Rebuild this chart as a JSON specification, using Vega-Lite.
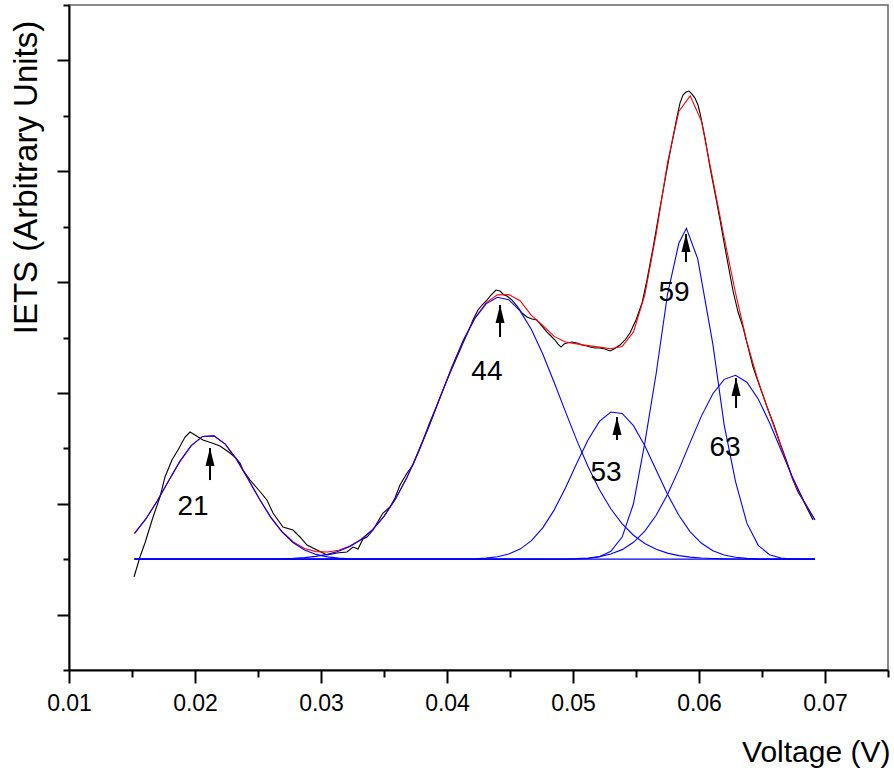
{
"$schema":"https://vega.github.io/schema/vega-lite/v6.json",
"width":819,"height":665,
"autosize":{"type":"none"},
"padding":{"left":69,"top":5,"right":6,"bottom":102},
"background":"white",
"config":{"view":{"stroke":"#666","strokeWidth":1.5},"font":"Liberation Sans"},
"datasets":{
"exp":[
{"x":0.01516,"y":1.678},{"x":0.01563,"y":2.039},{"x":0.01603,"y":2.292},{"x":0.01667,"y":2.761},{"x":0.01722,"y":3.122},{"x":0.01762,"y":3.483},{"x":0.01817,"y":3.789},{"x":0.01865,"y":3.970},{"x":0.01921,"y":4.204},{"x":0.01960,"y":4.294},{"x":0.02000,"y":4.240},{"x":0.02063,"y":4.150},{"x":0.02135,"y":4.096},{"x":0.02198,"y":4.042},{"x":0.02278,"y":3.916},{"x":0.02325,"y":3.825},{"x":0.02357,"y":3.735},{"x":0.02381,"y":3.609},{"x":0.02437,"y":3.428},{"x":0.02492,"y":3.284},{"x":0.02532,"y":3.176},{"x":0.02571,"y":3.067},{"x":0.02619,"y":2.833},{"x":0.02698,"y":2.580},{"x":0.02778,"y":2.526},{"x":0.02833,"y":2.400},{"x":0.02889,"y":2.255},{"x":0.02968,"y":2.165},{"x":0.03048,"y":2.075},{"x":0.03127,"y":2.111},{"x":0.03206,"y":2.129},{"x":0.03254,"y":2.219},{"x":0.03294,"y":2.183},{"x":0.03333,"y":2.364},{"x":0.03365,"y":2.400},{"x":0.03413,"y":2.526},{"x":0.03468,"y":2.743},{"x":0.03492,"y":2.833},{"x":0.03548,"y":2.941},{"x":0.03587,"y":3.104},{"x":0.03627,"y":3.338},{"x":0.03683,"y":3.555},{"x":0.03730,"y":3.699},{"x":0.03770,"y":3.934},{"x":0.03810,"y":4.150},{"x":0.03865,"y":4.475},{"x":0.03921,"y":4.782},{"x":0.03968,"y":5.052},{"x":0.04024,"y":5.359},{"x":0.04079,"y":5.648},{"x":0.04127,"y":5.900},{"x":0.04167,"y":6.099},{"x":0.04206,"y":6.315},{"x":0.04246,"y":6.496},{"x":0.04278,"y":6.586},{"x":0.04317,"y":6.676},{"x":0.04349,"y":6.767},{"x":0.04389,"y":6.857},{"x":0.04421,"y":6.839},{"x":0.04452,"y":6.767},{"x":0.04476,"y":6.749},{"x":0.04516,"y":6.676},{"x":0.04556,"y":6.568},{"x":0.04595,"y":6.442},{"x":0.04635,"y":6.370},{"x":0.04675,"y":6.333},{"x":0.04714,"y":6.315},{"x":0.04754,"y":6.207},{"x":0.04794,"y":6.099},{"x":0.04825,"y":6.027},{"x":0.04857,"y":5.955},{"x":0.04881,"y":5.882},{"x":0.04905,"y":5.828},{"x":0.04929,"y":5.882},{"x":0.04952,"y":5.900},{"x":0.04992,"y":5.918},{"x":0.05032,"y":5.900},{"x":0.05071,"y":5.864},{"x":0.05111,"y":5.846},{"x":0.05135,"y":5.828},{"x":0.05175,"y":5.810},{"x":0.05214,"y":5.810},{"x":0.05254,"y":5.792},{"x":0.05294,"y":5.756},{"x":0.05325,"y":5.792},{"x":0.05373,"y":5.864},{"x":0.05413,"y":5.955},{"x":0.05452,"y":6.081},{"x":0.05500,"y":6.315},{"x":0.05548,"y":6.622},{"x":0.05587,"y":7.037},{"x":0.05635,"y":7.615},{"x":0.05683,"y":8.246},{"x":0.05730,"y":8.842},{"x":0.05778,"y":9.437},{"x":0.05825,"y":9.978},{"x":0.05849,"y":10.231},{"x":0.05873,"y":10.375},{"x":0.05897,"y":10.430},{"x":0.05921,"y":10.448},{"x":0.05944,"y":10.393},{"x":0.05968,"y":10.321},{"x":0.05992,"y":10.195},{"x":0.06008,"y":10.051},{"x":0.06048,"y":9.599},{"x":0.06087,"y":9.076},{"x":0.06127,"y":8.607},{"x":0.06167,"y":8.120},{"x":0.06214,"y":7.524},{"x":0.06270,"y":6.839},{"x":0.06310,"y":6.460},{"x":0.06349,"y":6.189},{"x":0.06389,"y":5.828},{"x":0.06429,"y":5.467},{"x":0.06484,"y":5.106},{"x":0.06540,"y":4.746},{"x":0.06595,"y":4.421},{"x":0.06643,"y":4.096},{"x":0.06698,"y":3.753},{"x":0.06746,"y":3.428},{"x":0.06786,"y":3.212},{"x":0.06825,"y":3.067},{"x":0.06865,"y":2.887},{"x":0.06905,"y":2.707}
],
"fit":[
{"x":0.0152,"y":2.466},{"x":0.0161,"y":2.726},{"x":0.0170,"y":3.050},{"x":0.0179,"y":3.411},{"x":0.0188,"y":3.764},{"x":0.0197,"y":4.050},{"x":0.0206,"y":4.215},{"x":0.0215,"y":4.224},{"x":0.0224,"y":4.076},{"x":0.0233,"y":3.801},{"x":0.0242,"y":3.453},{"x":0.0251,"y":3.091},{"x":0.0260,"y":2.763},{"x":0.0269,"y":2.499},{"x":0.0278,"y":2.311},{"x":0.0287,"y":2.194},{"x":0.0296,"y":2.136},{"x":0.0305,"y":2.128},{"x":0.0314,"y":2.162},{"x":0.0323,"y":2.237},{"x":0.0332,"y":2.359},{"x":0.0341,"y":2.534},{"x":0.0350,"y":2.773},{"x":0.0359,"y":3.083},{"x":0.0368,"y":3.465},{"x":0.0377,"y":3.914},{"x":0.0386,"y":4.416},{"x":0.0395,"y":4.947},{"x":0.0404,"y":5.471},{"x":0.0413,"y":5.952},{"x":0.0422,"y":6.347},{"x":0.0431,"y":6.626},{"x":0.0440,"y":6.769},{"x":0.0449,"y":6.774},{"x":0.0458,"y":6.663},{"x":0.0467,"y":6.400},{"x":0.0476,"y":6.220},{"x":0.0485,"y":6.020},{"x":0.0494,"y":5.920},{"x":0.0503,"y":5.885},{"x":0.0512,"y":5.854},{"x":0.0521,"y":5.826},{"x":0.0530,"y":5.798},{"x":0.0539,"y":5.838},{"x":0.0548,"y":6.100},{"x":0.0557,"y":6.770},{"x":0.0566,"y":7.870},{"x":0.0575,"y":9.150},{"x":0.0584,"y":10.080},{"x":0.0593,"y":10.360},{"x":0.0602,"y":9.900},{"x":0.0611,"y":8.850},{"x":0.0620,"y":7.800},{"x":0.0629,"y":6.800},{"x":0.0638,"y":5.920},{"x":0.0647,"y":5.210},{"x":0.0656,"y":4.620},{"x":0.0665,"y":4.040},{"x":0.0674,"y":3.460},{"x":0.0683,"y":3.050},{"x":0.0692,"y":2.710}
],
"comp":[
{"c":"21","x":0.0152,"y":2.466},{"c":"21","x":0.0161,"y":2.726},{"c":"21","x":0.0170,"y":3.050},{"c":"21","x":0.0179,"y":3.411},{"c":"21","x":0.0188,"y":3.764},{"c":"21","x":0.0197,"y":4.050},{"c":"21","x":0.0206,"y":4.215},{"c":"21","x":0.0215,"y":4.224},{"c":"21","x":0.0224,"y":4.076},{"c":"21","x":0.0233,"y":3.801},{"c":"21","x":0.0242,"y":3.452},{"c":"21","x":0.0251,"y":3.089},{"c":"21","x":0.0260,"y":2.759},{"c":"21","x":0.0269,"y":2.491},{"c":"21","x":0.0278,"y":2.296},{"c":"21","x":0.0287,"y":2.166},{"c":"21","x":0.0296,"y":2.086},{"c":"21","x":0.0305,"y":2.042},{"c":"21","x":0.0314,"y":2.019},{"c":"21","x":0.0323,"y":2.008},{"c":"21","x":0.0332,"y":2.003},{"c":"21","x":0.0350,"y":2.0},{"c":"21","x":0.0692,"y":2.0},
{"c":"44","x":0.0152,"y":2.0},{"c":"44","x":0.0251,"y":2.0},{"c":"44","x":0.0260,"y":2.004},{"c":"44","x":0.0269,"y":2.008},{"c":"44","x":0.0278,"y":2.015},{"c":"44","x":0.0287,"y":2.028},{"c":"44","x":0.0296,"y":2.050},{"c":"44","x":0.0305,"y":2.086},{"c":"44","x":0.0314,"y":2.143},{"c":"44","x":0.0323,"y":2.229},{"c":"44","x":0.0332,"y":2.356},{"c":"44","x":0.0341,"y":2.534},{"c":"44","x":0.0350,"y":2.773},{"c":"44","x":0.0359,"y":3.083},{"c":"44","x":0.0368,"y":3.465},{"c":"44","x":0.0377,"y":3.914},{"c":"44","x":0.0386,"y":4.416},{"c":"44","x":0.0395,"y":4.947},{"c":"44","x":0.0404,"y":5.470},{"c":"44","x":0.0413,"y":5.949},{"c":"44","x":0.0422,"y":6.339},{"c":"44","x":0.0431,"y":6.607},{"c":"44","x":0.0440,"y":6.726},{"c":"44","x":0.0449,"y":6.682},{"c":"44","x":0.0458,"y":6.481},{"c":"44","x":0.0467,"y":6.145},{"c":"44","x":0.0476,"y":5.702},{"c":"44","x":0.0485,"y":5.193},{"c":"44","x":0.0494,"y":4.662},{"c":"44","x":0.0503,"y":4.143},{"c":"44","x":0.0512,"y":3.667},{"c":"44","x":0.0521,"y":3.252},{"c":"44","x":0.0530,"y":2.909},{"c":"44","x":0.0539,"y":2.638},{"c":"44","x":0.0548,"y":2.432},{"c":"44","x":0.0557,"y":2.283},{"c":"44","x":0.0566,"y":2.179},{"c":"44","x":0.0575,"y":2.109},{"c":"44","x":0.0584,"y":2.064},{"c":"44","x":0.0593,"y":2.037},{"c":"44","x":0.0602,"y":2.020},{"c":"44","x":0.0611,"y":2.011},{"c":"44","x":0.0620,"y":2.005},{"c":"44","x":0.0629,"y":2.002},{"c":"44","x":0.0647,"y":2.0},{"c":"44","x":0.0692,"y":2.0},
{"c":"53","x":0.0152,"y":2.0},{"c":"53","x":0.0395,"y":2.0},{"c":"53","x":0.0404,"y":2.001},{"c":"53","x":0.0413,"y":2.003},{"c":"53","x":0.0422,"y":2.008},{"c":"53","x":0.0431,"y":2.019},{"c":"53","x":0.0440,"y":2.043},{"c":"53","x":0.0449,"y":2.092},{"c":"53","x":0.0458,"y":2.182},{"c":"53","x":0.0467,"y":2.333},{"c":"53","x":0.0476,"y":2.565},{"c":"53","x":0.0485,"y":2.885},{"c":"53","x":0.0494,"y":3.285},{"c":"53","x":0.0503,"y":3.730},{"c":"53","x":0.0512,"y":4.154},{"c":"53","x":0.0521,"y":4.486},{"c":"53","x":0.0530,"y":4.656},{"c":"53","x":0.0539,"y":4.629},{"c":"53","x":0.0548,"y":4.410},{"c":"53","x":0.0557,"y":4.047},{"c":"53","x":0.0566,"y":3.610},{"c":"53","x":0.0575,"y":3.172},{"c":"53","x":0.0584,"y":2.791},{"c":"53","x":0.0593,"y":2.494},{"c":"53","x":0.0602,"y":2.286},{"c":"53","x":0.0611,"y":2.153},{"c":"53","x":0.0620,"y":2.076},{"c":"53","x":0.0629,"y":2.035},{"c":"53","x":0.0638,"y":2.015},{"c":"53","x":0.0647,"y":2.006},{"c":"53","x":0.0656,"y":2.002},{"c":"53","x":0.0665,"y":2.001},{"c":"53","x":0.0674,"y":2.0},{"c":"53","x":0.0692,"y":2.0},
{"c":"59","x":0.0152,"y":2.0},{"c":"59","x":0.0494,"y":2.0},{"c":"59","x":0.0503,"y":2.002},{"c":"59","x":0.0512,"y":2.011},{"c":"59","x":0.0521,"y":2.042},{"c":"59","x":0.0530,"y":2.141},{"c":"59","x":0.0539,"y":2.399},{"c":"59","x":0.0548,"y":3.000},{"c":"59","x":0.0557,"y":4.100},{"c":"59","x":0.0566,"y":5.350},{"c":"59","x":0.0575,"y":6.780},{"c":"59","x":0.0584,"y":7.700},{"c":"59","x":0.0590,"y":7.970},{"c":"59","x":0.0599,"y":7.420},{"c":"59","x":0.0611,"y":5.880},{"c":"59","x":0.0620,"y":4.420},{"c":"59","x":0.0629,"y":3.400},{"c":"59","x":0.0638,"y":2.650},{"c":"59","x":0.0647,"y":2.250},{"c":"59","x":0.0656,"y":2.080},{"c":"59","x":0.0665,"y":2.020},{"c":"59","x":0.0674,"y":2.004},{"c":"59","x":0.0683,"y":2.0},{"c":"59","x":0.0692,"y":2.0},
{"c":"63","x":0.0152,"y":2.0},{"c":"63","x":0.0485,"y":2.0},{"c":"63","x":0.0494,"y":2.004},{"c":"63","x":0.0503,"y":2.010},{"c":"63","x":0.0512,"y":2.022},{"c":"63","x":0.0521,"y":2.046},{"c":"63","x":0.0530,"y":2.092},{"c":"63","x":0.0539,"y":2.172},{"c":"63","x":0.0548,"y":2.304},{"c":"63","x":0.0557,"y":2.506},{"c":"63","x":0.0566,"y":2.792},{"c":"63","x":0.0575,"y":3.166},{"c":"63","x":0.0584,"y":3.616},{"c":"63","x":0.0593,"y":4.108},{"c":"63","x":0.0602,"y":4.586},{"c":"63","x":0.0611,"y":4.986},{"c":"63","x":0.0620,"y":5.245},{"c":"63","x":0.0629,"y":5.318},{"c":"63","x":0.0638,"y":5.193},{"c":"63","x":0.0647,"y":4.891},{"c":"63","x":0.0656,"y":4.463},{"c":"63","x":0.0665,"y":3.975},{"c":"63","x":0.0674,"y":3.490},{"c":"63","x":0.0683,"y":3.059},{"c":"63","x":0.0692,"y":2.707}
],
"arrows":[
{"x":0.02119,"y":3.428,"y2":4.006},
{"x":0.04421,"y":6.009,"y2":6.586},
{"x":0.05349,"y":4.150,"y2":4.565},
{"x":0.05897,"y":7.362,"y2":7.867},
{"x":0.06294,"y":4.728,"y2":5.269}
],
"labels":[
{"x":0.01984,"y":2.941,"t":"21"},
{"x":0.04317,"y":5.377,"t":"44"},
{"x":0.05262,"y":3.555,"t":"53"},
{"x":0.05802,"y":6.803,"t":"59"},
{"x":0.06206,"y":4.006,"t":"63"}
]
},
"encoding":{
"x":{"field":"x","type":"quantitative",
 "scale":{"domain":[0.01,0.075],"nice":false,"zero":false},
 "axis":{"values":[0.01,0.015,0.02,0.025,0.03,0.035,0.04,0.045,0.05,0.055,0.06,0.065,0.07,0.075],
  "tickSize":{"condition":{"test":"abs(datum.value*100 - round(datum.value*100)) < 0.001","value":13},"value":7},
  "labelExpr":"abs(datum.value*100 - round(datum.value*100)) < 0.001 ? format(datum.value, '.2f') : ''",
  "tickWidth":2,"tickColor":"black","domainColor":"black","domainWidth":2,"grid":false,
  "labelFont":"Liberation Sans","labelFontSize":23,"labelColor":"black","labelPadding":9,"labelFlush":false,"labelOverlap":false,
  "title":"Voltage (V)","titleFont":"Liberation Sans","titleFontSize":30,"titleFontWeight":"normal","titleColor":"black",
  "titleX":821,"titleY":82,"titleAlign":"right","titleBaseline":"middle"}},
"y":{"field":"y","type":"quantitative",
 "scale":{"domain":[0,12],"nice":false,"zero":false},
 "axis":{"values":[0,1,2,3,4,5,6,7,8,9,10,11,12],
  "tickSize":{"condition":{"test":"datum.value % 2 == 1","value":12},"value":6},
  "labels":false,"tickWidth":2,"tickColor":"black","domainColor":"black","domainWidth":2,"grid":false,
  "title":"IETS (Arbitrary Units)","titleFont":"Liberation Sans","titleFontSize":33,"titleFontWeight":"normal","titleColor":"black",
  "titleX":-43,"titleY":172,"titleAngle":-90,"titleAlign":"center","titleBaseline":"middle"}}
},
"layer":[
{"data":{"name":"exp"},"mark":{"type":"line","color":"#000000","strokeWidth":1.1}},
{"data":{"name":"fit"},"mark":{"type":"line","color":"#ff0000","strokeWidth":1.1}},
{"data":{"name":"comp"},"mark":{"type":"line","color":"#0000ff","strokeWidth":1.1},"encoding":{"detail":{"field":"c","type":"nominal"}}},
{"data":{"name":"arrows"},"mark":{"type":"rule","color":"black","strokeWidth":2},"encoding":{"y2":{"field":"y2"}}},
{"data":{"name":"arrows"},"mark":{"type":"point","shape":"M0,-1L0.5,1L-0.5,1Z","size":324,"filled":true,"color":"black","opacity":1,"strokeWidth":0,"yOffset":9},"encoding":{"y":{"field":"y2","type":"quantitative"}}},
{"data":{"name":"labels"},"mark":{"type":"text","font":"Liberation Sans","fontSize":28,"color":"black","align":"center","baseline":"middle"},"encoding":{"text":{"field":"t"}}}
]
}
